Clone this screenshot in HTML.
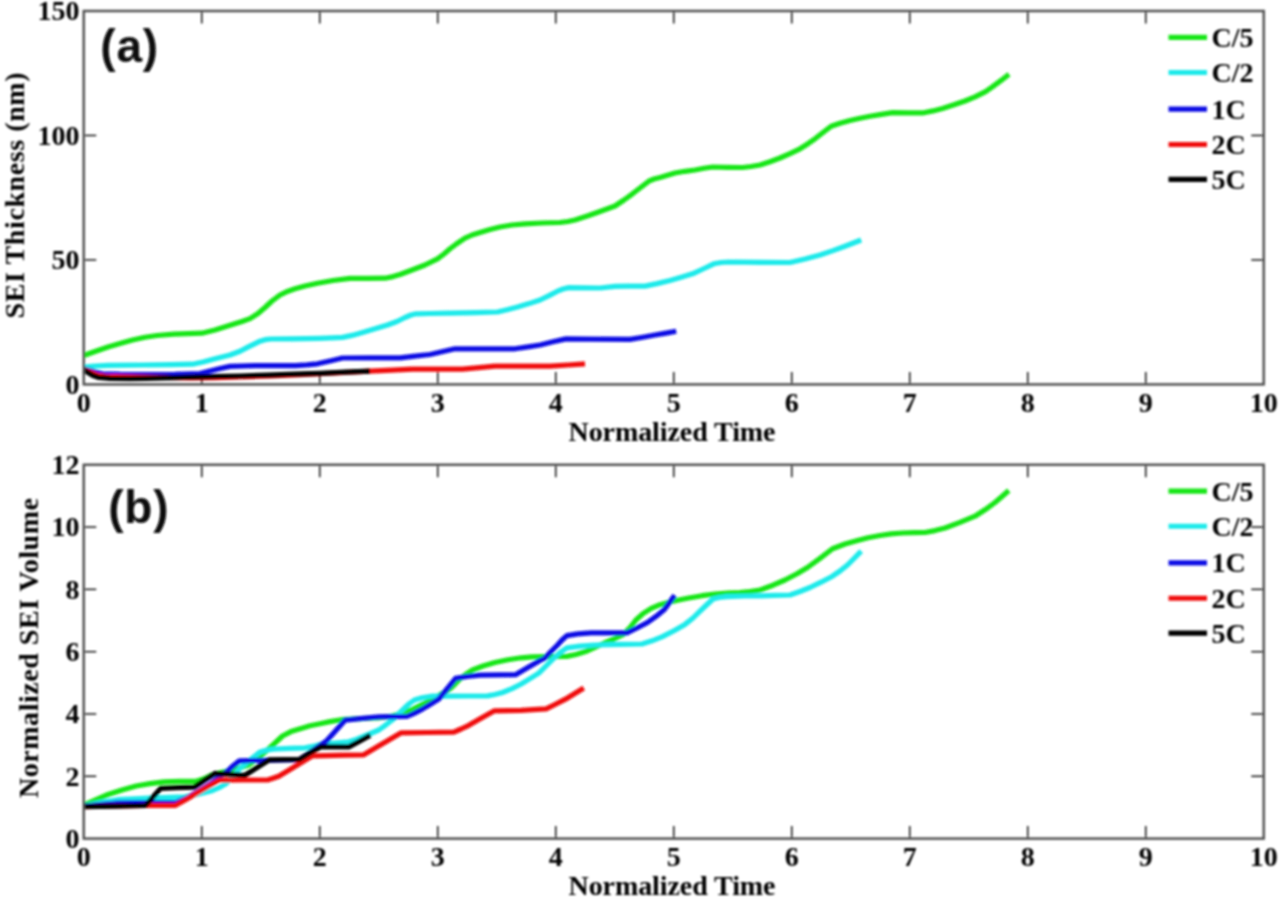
<!DOCTYPE html>
<html lang="en">
<head>
<meta charset="utf-8">
<title>SEI thickness and normalized SEI volume versus normalized time</title>
<style>
html,body{margin:0;padding:0;background:#fff;}
body{width:1280px;height:900px;overflow:hidden;}
svg{display:block;}
.t{font-family:"Liberation Serif","DejaVu Serif",serif;font-weight:bold;font-size:28px;fill:#000;}
.p{font-family:"Liberation Sans","DejaVu Sans",sans-serif;font-weight:bold;font-size:46px;letter-spacing:0.8px;fill:#0a0a0a;}
.ax{fill:none;stroke:#4c4c4c;stroke-width:2.4;}
.tk{stroke:#000;stroke-width:1.4;fill:none;}
.cv path{fill:none;stroke-width:5.2;stroke-linejoin:round;stroke-linecap:butt;}
.lg line{stroke-width:5.2;}
</style>
</head>
<body>
<svg width="1280" height="900" viewBox="0 0 1280 900">
<defs><filter id="soft" x="-2%" y="-2%" width="104%" height="104%"><feGaussianBlur stdDeviation="0.8"/></filter></defs>
<rect x="0" y="0" width="1280" height="900" fill="#ffffff"/>
<g filter="url(#soft)">
<g>
<g class="tk">
<line x1="201.75" y1="384.40" x2="201.75" y2="371.90"/>
<line x1="201.75" y1="11.00" x2="201.75" y2="23.50"/>
<line x1="319.75" y1="384.40" x2="319.75" y2="371.90"/>
<line x1="319.75" y1="11.00" x2="319.75" y2="23.50"/>
<line x1="437.75" y1="384.40" x2="437.75" y2="371.90"/>
<line x1="437.75" y1="11.00" x2="437.75" y2="23.50"/>
<line x1="555.75" y1="384.40" x2="555.75" y2="371.90"/>
<line x1="555.75" y1="11.00" x2="555.75" y2="23.50"/>
<line x1="673.75" y1="384.40" x2="673.75" y2="371.90"/>
<line x1="673.75" y1="11.00" x2="673.75" y2="23.50"/>
<line x1="791.75" y1="384.40" x2="791.75" y2="371.90"/>
<line x1="791.75" y1="11.00" x2="791.75" y2="23.50"/>
<line x1="909.75" y1="384.40" x2="909.75" y2="371.90"/>
<line x1="909.75" y1="11.00" x2="909.75" y2="23.50"/>
<line x1="1027.75" y1="384.40" x2="1027.75" y2="371.90"/>
<line x1="1027.75" y1="11.00" x2="1027.75" y2="23.50"/>
<line x1="1145.75" y1="384.40" x2="1145.75" y2="371.90"/>
<line x1="1145.75" y1="11.00" x2="1145.75" y2="23.50"/>
<line x1="83.75" y1="259.93" x2="96.25" y2="259.93"/>
<line x1="1263.75" y1="259.93" x2="1251.25" y2="259.93"/>
<line x1="83.75" y1="135.47" x2="96.25" y2="135.47"/>
<line x1="1263.75" y1="135.47" x2="1251.25" y2="135.47"/>
</g>
<g class="cv">
<path d="M83.8,355.5 L95.0,351.5 L108.0,347.0 L120.0,343.5 L132.5,340.0 L145.0,337.2 L157.0,335.5 L173.8,334.2 L188.0,333.6 L201.9,333.2 L215.0,330.0 L230.0,325.3 L242.0,321.5 L250.0,318.6 L258.0,313.5 L265.0,307.5 L272.0,301.0 L280.0,295.0 L288.0,291.2 L295.0,288.8 L305.0,286.0 L317.5,283.2 L333.0,280.5 L350.0,278.4 L367.0,278.3 L385.0,278.2 L393.0,276.6 L400.0,274.5 L412.0,270.0 L425.0,265.0 L437.5,258.8 L444.0,254.0 L450.0,248.8 L457.0,243.5 L465.0,238.2 L472.0,235.0 L480.0,232.5 L490.0,229.5 L500.0,227.0 L512.0,225.0 L525.0,223.8 L542.0,223.0 L560.0,222.5 L568.0,221.5 L575.0,220.0 L588.0,215.8 L600.0,211.5 L615.0,206.0 L624.0,200.0 L632.5,193.8 L640.0,188.0 L648.8,181.2 L654.0,179.0 L660.0,177.5 L675.0,173.0 L685.0,171.3 L695.0,170.0 L704.0,168.3 L712.5,167.0 L727.0,167.3 L742.5,167.5 L751.0,166.5 L760.0,165.0 L770.0,161.8 L780.0,158.0 L790.0,153.6 L800.0,148.8 L808.0,143.7 L815.0,138.8 L823.0,132.5 L831.2,126.2 L840.0,123.2 L850.0,120.5 L860.0,118.2 L870.0,116.2 L880.0,114.6 L892.5,112.6 L908.0,112.9 L923.8,112.8 L933.0,110.9 L942.5,108.4 L954.0,104.8 L965.0,101.0 L975.0,96.8 L985.6,91.6 L992.0,87.2 L998.8,82.2 L1004.0,78.2 L1009.0,74.3" stroke="#19e619"/>
<path d="M83.8,367.2 L95.0,366.0 L108.0,365.3 L142.5,365.0 L170.0,364.6 L192.5,364.2 L203.0,362.0 L215.0,358.8 L230.0,355.0 L240.0,351.2 L248.8,346.6 L255.0,343.6 L260.0,341.2 L265.0,339.7 L271.0,339.0 L290.0,338.9 L305.0,338.6 L320.0,338.3 L342.5,337.4 L352.0,335.4 L362.5,332.5 L375.0,328.8 L387.5,325.0 L397.0,321.5 L405.0,317.5 L411.0,315.0 L416.0,313.8 L430.0,313.5 L450.0,313.2 L475.0,312.6 L497.5,312.0 L507.0,309.8 L517.5,307.0 L529.0,303.6 L540.0,300.0 L549.0,295.6 L557.5,291.2 L563.0,289.0 L568.8,287.6 L585.0,287.9 L600.0,288.0 L615.0,286.3 L630.0,286.2 L645.0,286.1 L657.0,283.6 L670.0,280.5 L682.0,277.0 L692.5,273.8 L703.0,269.0 L713.8,263.8 L721.0,262.5 L730.0,262.0 L760.0,262.3 L790.0,262.5 L805.0,259.0 L820.0,255.0 L833.0,250.6 L845.0,246.2 L854.0,242.8 L861.2,240.0" stroke="#1eeaea"/>
<path d="M83.8,369.0 L90.0,370.5 L96.0,372.3 L102.5,373.8 L120.0,374.4 L145.6,374.7 L175.0,374.4 L200.0,373.5 L210.0,371.0 L220.0,368.5 L230.0,366.4 L255.0,365.6 L295.6,365.6 L307.0,364.9 L317.5,363.8 L330.0,361.0 L342.5,358.0 L370.0,357.8 L400.0,357.8 L415.0,356.2 L430.0,354.5 L443.0,351.5 L455.0,348.8 L485.0,348.8 L515.0,348.8 L528.0,346.9 L540.0,345.0 L553.0,341.8 L566.0,338.9 L590.0,339.2 L630.0,339.4 L643.0,337.2 L655.0,335.0 L666.0,333.1 L676.2,331.2" stroke="#1010e4"/>
<path d="M83.8,369.5 L90.0,372.0 L97.0,375.0 L105.0,376.3 L125.0,376.8 L145.0,377.0 L165.0,377.4 L190.0,378.0 L215.0,377.6 L240.0,376.8 L270.0,376.0 L300.0,374.6 L335.0,373.0 L370.0,371.2 L392.0,370.2 L412.5,369.2 L437.0,369.2 L462.5,369.2 L479.0,367.7 L495.0,366.2 L522.0,366.2 L550.0,366.2 L568.0,365.0 L585.0,363.8" stroke="#f01010"/>
<path d="M83.8,370.0 L88.0,372.5 L93.0,375.5 L98.8,377.5 L110.0,378.3 L130.0,378.7 L145.6,378.4 L175.0,377.6 L211.0,376.6 L240.0,376.0 L267.5,375.2 L295.0,374.2 L320.0,373.3 L345.0,372.2 L370.0,371.2" stroke="#000000"/>
</g>
<rect class="ax" x="83.75" y="11.00" width="1180.00" height="373.40"/>
<text class="t" x="79.5" y="393.70" text-anchor="end">0</text>
<text class="t" x="79.5" y="269.23" text-anchor="end">50</text>
<text class="t" x="79.5" y="144.77" text-anchor="end">100</text>
<text class="t" x="79.5" y="20.30" text-anchor="end">150</text>
<text class="t" x="83.75" y="411.90" text-anchor="middle">0</text>
<text class="t" x="201.75" y="411.90" text-anchor="middle">1</text>
<text class="t" x="319.75" y="411.90" text-anchor="middle">2</text>
<text class="t" x="437.75" y="411.90" text-anchor="middle">3</text>
<text class="t" x="555.75" y="411.90" text-anchor="middle">4</text>
<text class="t" x="673.75" y="411.90" text-anchor="middle">5</text>
<text class="t" x="791.75" y="411.90" text-anchor="middle">6</text>
<text class="t" x="909.75" y="411.90" text-anchor="middle">7</text>
<text class="t" x="1027.75" y="411.90" text-anchor="middle">8</text>
<text class="t" x="1145.75" y="411.90" text-anchor="middle">9</text>
<text class="t" x="1263.75" y="411.90" text-anchor="middle">10</text>
<text class="t" x="672" y="441.30" text-anchor="middle" textLength="207" lengthAdjust="spacing">Normalized Time</text>
<text class="t" transform="translate(23.60,195.40) rotate(-90)" text-anchor="middle" textLength="246" lengthAdjust="spacing">SEI Thickness (nm)</text>
<text class="p" x="100.30" y="62.00">(a)</text>
<g class="lg">
<line x1="1168.5" y1="37.30" x2="1207" y2="37.30" stroke="#19e619"/>
<text class="t" x="1211.5" y="46.90">C/5</text>
<line x1="1168.5" y1="72.50" x2="1207" y2="72.50" stroke="#1eeaea"/>
<text class="t" x="1211.5" y="82.10">C/2</text>
<line x1="1168.5" y1="109.10" x2="1207" y2="109.10" stroke="#1010e4"/>
<text class="t" x="1211.5" y="118.70">1C</text>
<line x1="1168.5" y1="144.50" x2="1207" y2="144.50" stroke="#f01010"/>
<text class="t" x="1211.5" y="154.10">2C</text>
<line x1="1168.5" y1="179.40" x2="1207" y2="179.40" stroke="#000000"/>
<text class="t" x="1211.5" y="189.00">5C</text>
</g>
</g>
<g>
<g class="tk">
<line x1="201.75" y1="838.60" x2="201.75" y2="826.10"/>
<line x1="201.75" y1="464.75" x2="201.75" y2="477.25"/>
<line x1="319.75" y1="838.60" x2="319.75" y2="826.10"/>
<line x1="319.75" y1="464.75" x2="319.75" y2="477.25"/>
<line x1="437.75" y1="838.60" x2="437.75" y2="826.10"/>
<line x1="437.75" y1="464.75" x2="437.75" y2="477.25"/>
<line x1="555.75" y1="838.60" x2="555.75" y2="826.10"/>
<line x1="555.75" y1="464.75" x2="555.75" y2="477.25"/>
<line x1="673.75" y1="838.60" x2="673.75" y2="826.10"/>
<line x1="673.75" y1="464.75" x2="673.75" y2="477.25"/>
<line x1="791.75" y1="838.60" x2="791.75" y2="826.10"/>
<line x1="791.75" y1="464.75" x2="791.75" y2="477.25"/>
<line x1="909.75" y1="838.60" x2="909.75" y2="826.10"/>
<line x1="909.75" y1="464.75" x2="909.75" y2="477.25"/>
<line x1="1027.75" y1="838.60" x2="1027.75" y2="826.10"/>
<line x1="1027.75" y1="464.75" x2="1027.75" y2="477.25"/>
<line x1="1145.75" y1="838.60" x2="1145.75" y2="826.10"/>
<line x1="1145.75" y1="464.75" x2="1145.75" y2="477.25"/>
<line x1="83.75" y1="776.29" x2="96.25" y2="776.29"/>
<line x1="1263.75" y1="776.29" x2="1251.25" y2="776.29"/>
<line x1="83.75" y1="713.98" x2="96.25" y2="713.98"/>
<line x1="1263.75" y1="713.98" x2="1251.25" y2="713.98"/>
<line x1="83.75" y1="651.67" x2="96.25" y2="651.67"/>
<line x1="1263.75" y1="651.67" x2="1251.25" y2="651.67"/>
<line x1="83.75" y1="589.37" x2="96.25" y2="589.37"/>
<line x1="1263.75" y1="589.37" x2="1251.25" y2="589.37"/>
<line x1="83.75" y1="527.06" x2="96.25" y2="527.06"/>
<line x1="1263.75" y1="527.06" x2="1251.25" y2="527.06"/>
</g>
<g class="cv">
<path d="M83.8,805.0 L95.0,800.0 L108.0,794.5 L122.0,790.0 L136.2,786.0 L150.0,783.6 L164.4,781.9 L180.0,781.4 L196.2,781.3 L204.0,778.8 L211.0,775.3 L222.0,772.2 L235.0,769.2 L248.8,765.0 L258.0,758.0 L267.5,750.0 L275.0,743.0 L282.5,736.0 L291.0,731.6 L301.0,728.4 L310.0,725.8 L320.0,723.8 L330.0,721.6 L341.2,719.7 L360.0,718.6 L378.0,718.0 L392.0,716.0 L402.0,713.3 L412.5,709.4 L425.0,703.0 L438.0,696.0 L450.0,688.8 L455.0,684.0 L459.4,679.4 L466.0,674.2 L472.5,670.0 L483.0,666.0 L495.0,662.5 L508.0,659.8 L521.2,657.8 L532.0,656.9 L544.4,656.6 L566.9,656.4 L576.0,654.5 L585.6,651.6 L595.0,647.4 L604.4,643.0 L614.0,639.0 L623.0,634.7 L630.0,627.5 L636.2,619.7 L643.0,613.6 L651.2,608.4 L660.0,604.7 L670.0,601.9 L680.0,599.7 L688.8,598.0 L702.0,595.7 L715.0,594.0 L728.0,593.2 L740.0,592.6 L750.0,591.6 L760.0,590.0 L773.0,585.2 L785.0,580.0 L797.0,573.8 L807.5,567.5 L820.0,558.3 L832.5,548.8 L845.0,544.0 L857.5,540.5 L868.0,537.8 L880.0,535.5 L891.0,533.9 L902.5,533.0 L914.0,532.7 L925.0,532.5 L935.0,530.6 L945.0,528.0 L960.0,522.4 L975.0,516.2 L985.0,509.8 L995.0,502.5 L1002.0,496.5 L1008.8,490.5" stroke="#19e619"/>
<path d="M83.8,806.0 L100.0,802.5 L117.5,799.7 L150.0,798.2 L185.0,796.9 L198.0,794.3 L211.0,791.0 L219.0,787.6 L226.0,783.8 L233.0,776.5 L239.4,768.8 L250.0,760.0 L260.0,751.9 L267.0,750.0 L275.0,749.0 L290.0,748.3 L305.0,747.8 L313.0,746.4 L320.0,744.4 L335.0,743.0 L348.8,741.8 L356.2,739.4 L367.0,735.0 L378.8,730.0 L386.0,724.8 L393.8,718.8 L399.0,713.3 L405.0,707.5 L409.5,703.5 L414.4,700.0 L422.0,697.7 L431.2,696.2 L450.0,696.1 L470.0,696.0 L487.5,695.9 L495.0,694.5 L502.5,692.5 L512.0,688.6 L521.2,684.0 L530.0,678.6 L538.8,673.1 L546.0,666.0 L553.8,658.1 L560.0,652.6 L566.9,647.8 L580.0,646.2 L595.0,645.0 L620.0,644.4 L641.9,644.0 L652.0,640.8 L662.5,636.6 L674.0,630.7 L685.0,624.4 L693.0,618.0 L700.0,611.2 L706.5,605.0 L713.0,599.0 L719.0,597.5 L726.2,596.6 L745.0,596.0 L760.0,595.8 L775.0,595.4 L790.0,595.0 L800.0,591.5 L810.0,587.5 L821.0,582.2 L832.5,576.2 L840.0,571.0 L847.5,565.0 L854.0,558.5 L861.2,551.2" stroke="#1eeaea"/>
<path d="M83.8,806.3 L100.0,804.6 L117.5,803.0 L145.0,802.7 L175.6,802.6 L188.0,797.3 L200.0,790.5 L211.0,783.5 L219.0,777.0 L228.0,770.6 L233.5,765.5 L239.4,760.9 L252.0,760.5 L265.6,760.3 L285.0,760.0 L299.4,759.6 L310.0,752.5 L320.0,745.5 L326.2,741.2 L335.0,731.5 L345.0,720.2 L360.0,718.6 L378.8,716.9 L393.0,716.6 L406.9,716.5 L414.0,713.3 L421.9,709.4 L430.0,704.5 L438.8,699.0 L447.0,689.0 L455.6,678.4 L467.0,676.5 L480.0,675.2 L500.0,674.9 L515.6,674.7 L527.0,668.0 L540.0,660.5 L544.4,658.5 L551.0,651.5 L557.5,645.0 L562.0,640.0 L566.9,635.6 L578.0,633.9 L591.2,632.8 L610.0,632.8 L626.9,632.8 L637.0,628.0 L647.5,622.5 L656.0,616.4 L664.4,609.4 L669.5,602.5 L674.7,595.3" stroke="#1010e4"/>
<path d="M83.8,806.6 L115.0,806.0 L145.6,805.4 L175.6,805.3 L186.0,799.5 L197.0,793.0 L208.0,786.5 L218.8,780.2 L243.0,780.0 L267.5,780.0 L273.0,778.3 L278.8,776.2 L290.0,769.5 L301.0,762.8 L312.5,755.8 L325.0,755.6 L345.0,755.2 L363.8,754.8 L376.0,747.6 L388.0,740.5 L401.2,732.8 L427.0,732.5 L453.8,732.2 L461.0,729.0 L468.8,725.3 L481.0,718.3 L494.0,710.9 L508.0,710.6 L521.2,710.3 L533.0,709.6 L546.2,708.8 L555.0,704.5 L565.0,699.4 L574.0,694.0 L583.8,688.1" stroke="#f01010"/>
<path d="M83.8,806.7 L115.0,806.2 L145.6,805.4 L153.0,797.0 L160.6,788.4 L177.0,787.7 L194.4,787.1 L204.0,780.5 L215.0,773.4 L230.0,774.4 L245.0,775.3 L257.0,767.6 L269.4,759.8 L284.0,759.6 L299.4,759.4 L310.0,752.8 L320.6,746.9 L335.0,746.9 L348.8,746.9 L359.0,741.5 L370.3,735.2" stroke="#000000"/>
</g>
<rect class="ax" x="83.75" y="464.75" width="1180.00" height="373.85"/>
<text class="t" x="79.5" y="847.90" text-anchor="end">0</text>
<text class="t" x="79.5" y="785.59" text-anchor="end">2</text>
<text class="t" x="79.5" y="723.28" text-anchor="end">4</text>
<text class="t" x="79.5" y="660.97" text-anchor="end">6</text>
<text class="t" x="79.5" y="598.67" text-anchor="end">8</text>
<text class="t" x="79.5" y="536.36" text-anchor="end">10</text>
<text class="t" x="79.5" y="474.05" text-anchor="end">12</text>
<text class="t" x="83.75" y="866.10" text-anchor="middle">0</text>
<text class="t" x="201.75" y="866.10" text-anchor="middle">1</text>
<text class="t" x="319.75" y="866.10" text-anchor="middle">2</text>
<text class="t" x="437.75" y="866.10" text-anchor="middle">3</text>
<text class="t" x="555.75" y="866.10" text-anchor="middle">4</text>
<text class="t" x="673.75" y="866.10" text-anchor="middle">5</text>
<text class="t" x="791.75" y="866.10" text-anchor="middle">6</text>
<text class="t" x="909.75" y="866.10" text-anchor="middle">7</text>
<text class="t" x="1027.75" y="866.10" text-anchor="middle">8</text>
<text class="t" x="1145.75" y="866.10" text-anchor="middle">9</text>
<text class="t" x="1263.75" y="866.10" text-anchor="middle">10</text>
<text class="t" x="672" y="894.60" text-anchor="middle" textLength="207" lengthAdjust="spacing">Normalized Time</text>
<text class="t" transform="translate(38.20,648.00) rotate(-90)" text-anchor="middle" textLength="300" lengthAdjust="spacing">Normalized SEI Volume</text>
<text class="p" x="108.20" y="523.00">(b)</text>
<g class="lg">
<line x1="1168.5" y1="491.05" x2="1207" y2="491.05" stroke="#19e619"/>
<text class="t" x="1211.5" y="500.65">C/5</text>
<line x1="1168.5" y1="526.25" x2="1207" y2="526.25" stroke="#1eeaea"/>
<text class="t" x="1211.5" y="535.85">C/2</text>
<line x1="1168.5" y1="562.85" x2="1207" y2="562.85" stroke="#1010e4"/>
<text class="t" x="1211.5" y="572.45">1C</text>
<line x1="1168.5" y1="598.25" x2="1207" y2="598.25" stroke="#f01010"/>
<text class="t" x="1211.5" y="607.85">2C</text>
<line x1="1168.5" y1="633.15" x2="1207" y2="633.15" stroke="#000000"/>
<text class="t" x="1211.5" y="642.75">5C</text>
</g>
</g>
</g>
</svg>
</body>
</html>
